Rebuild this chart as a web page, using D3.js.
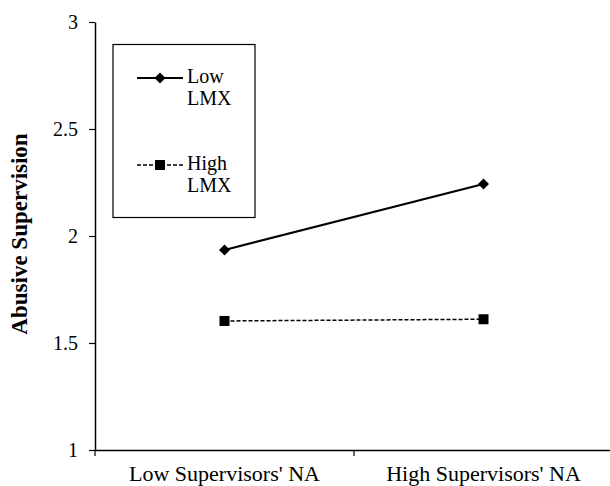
<!DOCTYPE html>
<html>
<head>
<meta charset="utf-8">
<script src="https://cdn.jsdelivr.net/npm/d3@7"></script>
<style>
body{margin:0;background:#fff}
svg{display:block}
text{font-family:"Liberation Serif","Times New Roman",serif;fill:#000}
</style>
</head>
<body>
<svg id="chart" width="610" height="486"></svg>
<script>
// data
var categories = ["Low Supervisors' NA", "High Supervisors' NA"]
var lowLMX = [1.935, 2.243]
var highLMX = [1.603, 1.611]
var yTicks = [1, 1.5, 2, 2.5, 3]
var seriesNames = [["Low", "LMX"], ["High", "LMX"]]

var svg = d3.select("#chart")
// note: "top" is taken by window.top, so use other names
var plotL = 95, plotR = 613, plotT = 22, plotB = 450
var serif = "Liberation Serif, Times New Roman, serif"

var x = d3.scaleBand().domain(categories).range([plotL, plotR])
var y = d3.scaleLinear().domain([1, 3]).range([plotB, plotT])

// y axis
var yAxis = svg.append("g").attr("transform", "translate(" + plotL + ",0)")
    .call(d3.axisLeft(y).tickValues(yTicks).tickFormat(d3.format("")).tickSize(6).tickSizeOuter(0))
    .attr("font-family", serif)
yAxis.select(".domain").attr("stroke", "#000").attr("stroke-width", 1.5)
yAxis.selectAll(".tick line").attr("stroke", "#000").attr("stroke-width", 1.2)
yAxis.selectAll(".tick text").attr("font-size", 20).attr("x", -17)

// x axis
var xAxis = svg.append("g").attr("transform", "translate(0," + plotB + ")")
    .call(d3.axisBottom(x).tickSize(0).tickSizeOuter(0))
    .attr("font-family", serif)
xAxis.select(".domain").attr("stroke", "#000").attr("stroke-width", 1.5)
xAxis.selectAll(".tick text").attr("font-size", 22).attr("dy", 0).attr("y", 31)
// tick marks on the band edges
var edges = [plotL, x(categories[1])]
svg.selectAll(".xedge").data(edges).enter().append("line")
    .attr("x1", function (d) { return d }).attr("x2", function (d) { return d })
    .attr("y1", plotB).attr("y2", plotB + 6)
    .attr("stroke", "#000").attr("stroke-width", 1.2)

// y axis title
svg.append("text")
    .attr("transform", "translate(27,234) rotate(-90)")
    .attr("text-anchor", "middle")
    .attr("font-size", 23).attr("font-weight", "bold")
    .text("Abusive Supervision")

var cx = function (i) { return x(categories[i]) + x.bandwidth() / 2 }
var line = d3.line().x(function (d, i) { return cx(i) }).y(function (d) { return y(d) })

// low LMX: solid with diamonds
svg.append("path").datum(lowLMX).attr("d", line)
    .attr("fill", "none").attr("stroke", "#000").attr("stroke-width", 2)
svg.selectAll(".dia").data(lowLMX).enter().append("path")
    .attr("d", d3.symbol().type(d3.symbolSquare).size(60))
    .attr("transform", function (d, i) { return "translate(" + cx(i) + "," + y(d) + ") rotate(45)" })
    .attr("fill", "#000")

// high LMX: dashed with squares
svg.append("path").datum(highLMX).attr("d", line)
    .attr("fill", "none").attr("stroke", "#000").attr("stroke-width", 1.5)
    .attr("stroke-dasharray", "4,2")
svg.selectAll(".sq").data(highLMX).enter().append("rect")
    .attr("x", function (d, i) { return cx(i) - 5 }).attr("y", function (d) { return y(d) - 5 })
    .attr("width", 10).attr("height", 10).attr("fill", "#000")

// legend
var lg = svg.append("g").attr("font-family", serif)
lg.append("rect").attr("x", 113).attr("y", 44.5).attr("width", 142).attr("height", 173)
    .attr("fill", "#fff").attr("stroke", "#000").attr("stroke-width", 1.2)
var rows = [78, 165]
lg.append("line").attr("x1", 137).attr("x2", 183).attr("y1", rows[0]).attr("y2", rows[0])
    .attr("stroke", "#000").attr("stroke-width", 2)
lg.append("path").attr("d", d3.symbol().type(d3.symbolSquare).size(60))
    .attr("transform", "translate(160," + rows[0] + ") rotate(45)").attr("fill", "#000")
lg.append("line").attr("x1", 137).attr("x2", 183).attr("y1", rows[1]).attr("y2", rows[1])
    .attr("stroke", "#000").attr("stroke-width", 1.5).attr("stroke-dasharray", "4,2")
lg.append("rect").attr("x", 155).attr("y", rows[1] - 5).attr("width", 10).attr("height", 10).attr("fill", "#000")
seriesNames.forEach(function (nm, i) {
    var t = lg.append("text").attr("x", 187).attr("y", rows[i] + 5).attr("font-size", 20)
    t.append("tspan").attr("x", 187).text(nm[0])
    t.append("tspan").attr("x", 187).attr("dy", 22).text(nm[1])
})
</script>
</body>
</html>
